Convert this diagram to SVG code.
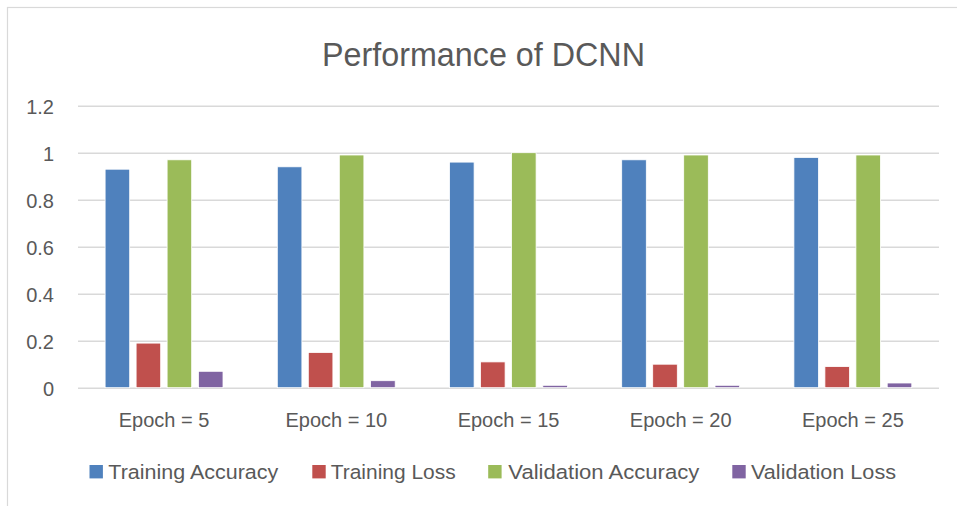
<svg xmlns="http://www.w3.org/2000/svg" width="957" height="506" viewBox="0 0 957 506">
<style>
text{font-family:"Liberation Sans",Arial,sans-serif;fill:#595959}
.grid{stroke:#d9d9d9;stroke-width:1.5}
.ax{font-size:20px;text-anchor:end}
.xl{font-size:20px;text-anchor:middle}
.lg{font-size:20.5px}
.ta{fill:#4f81bd}
.tl{fill:#c0504d}
.va{fill:#9bbb59}
.vl{fill:#8064a2}
.bar{stroke:#ffffff;stroke-width:0.8}
</style>
<rect x="0" y="0" width="957" height="506" fill="#ffffff"/>
<rect x="7.5" y="7.5" width="960" height="510" fill="none" stroke="#d9d9d9" stroke-width="1.2"/>
<text x="322" y="66" font-size="34" textLength="323" lengthAdjust="spacingAndGlyphs">Performance of DCNN</text>
<g id="grid">
<line class="grid" x1="78" y1="106.2" x2="939" y2="106.2"/>
<line class="grid" x1="78" y1="153.2" x2="939" y2="153.2"/>
<line class="grid" x1="78" y1="200.2" x2="939" y2="200.2"/>
<line class="grid" x1="78" y1="247.2" x2="939" y2="247.2"/>
<line class="grid" x1="78" y1="294.2" x2="939" y2="294.2"/>
<line class="grid" x1="78" y1="341.2" x2="939" y2="341.2"/>
<line class="grid" x1="78" y1="388.2" x2="939" y2="388.2"/>
</g>
<g id="yaxis">
<text class="ax" x="54" y="113.5">1.2</text>
<text class="ax" x="54" y="160.5">1</text>
<text class="ax" x="54" y="207.5">0.8</text>
<text class="ax" x="54" y="254.5">0.6</text>
<text class="ax" x="54" y="301.5">0.4</text>
<text class="ax" x="54" y="348.5">0.2</text>
<text class="ax" x="54" y="395.5">0</text>
</g>
<g id="epoch5">
<rect class="bar ta" x="105.1" y="169.2" width="24.6" height="218.5"/>
<rect class="bar tl" x="136.1" y="343.1" width="24.6" height="44.6"/>
<rect class="bar va" x="167.1" y="159.8" width="24.6" height="227.9"/>
<rect class="bar vl" x="198.4" y="371.3" width="24.6" height="16.4"/>
<text class="xl" x="164.1" y="426.5">Epoch = 5</text>
</g>
<g id="epoch10">
<rect class="bar ta" x="277.3" y="166.8" width="24.6" height="220.9"/>
<rect class="bar tl" x="308.3" y="352.5" width="24.6" height="35.2"/>
<rect class="bar va" x="339.3" y="155.0" width="24.6" height="232.7"/>
<rect class="bar vl" x="370.6" y="380.7" width="24.6" height="7.0"/>
<text class="xl" x="336.3" y="426.5">Epoch = 10</text>
</g>
<g id="epoch15">
<rect class="bar ta" x="449.5" y="162.1" width="24.6" height="225.6"/>
<rect class="bar tl" x="480.5" y="361.9" width="24.6" height="25.8"/>
<rect class="bar va" x="511.5" y="152.7" width="24.6" height="235.0"/>
<rect class="bar vl" x="542.8" y="385.3" width="24.6" height="2.4"/>
<text class="xl" x="508.5" y="426.5">Epoch = 15</text>
</g>
<g id="epoch20">
<rect class="bar ta" x="621.7" y="159.8" width="24.6" height="227.9"/>
<rect class="bar tl" x="652.7" y="364.2" width="24.6" height="23.5"/>
<rect class="bar va" x="683.7" y="155.0" width="24.6" height="232.7"/>
<rect class="bar vl" x="715.0" y="385.3" width="24.6" height="2.4"/>
<text class="xl" x="680.7" y="426.5">Epoch = 20</text>
</g>
<g id="epoch25">
<rect class="bar ta" x="793.9" y="157.4" width="24.6" height="230.3"/>
<rect class="bar tl" x="824.9" y="366.6" width="24.6" height="21.1"/>
<rect class="bar va" x="855.9" y="155.0" width="24.6" height="232.7"/>
<rect class="bar vl" x="887.2" y="383.0" width="24.6" height="4.7"/>
<text class="xl" x="852.9" y="426.5">Epoch = 25</text>
</g>
<g id="legend">
<rect class="ta" x="89.5" y="465" width="13.4" height="13.4"/>
<text class="lg" x="108.3" y="479.3" textLength="170" lengthAdjust="spacingAndGlyphs">Training Accuracy</text>
<rect class="tl" x="312.3" y="465" width="13.4" height="13.4"/>
<text class="lg" x="330.7" y="479.3" textLength="125" lengthAdjust="spacingAndGlyphs">Training Loss</text>
<rect class="va" x="488.2" y="465" width="13.4" height="13.4"/>
<text class="lg" x="508.3" y="479.3" textLength="191" lengthAdjust="spacingAndGlyphs">Validation Accuracy</text>
<rect class="vl" x="732.3" y="465" width="13.4" height="13.4"/>
<text class="lg" x="751" y="479.3" textLength="145" lengthAdjust="spacingAndGlyphs">Validation Loss</text>
</g>
</svg>
